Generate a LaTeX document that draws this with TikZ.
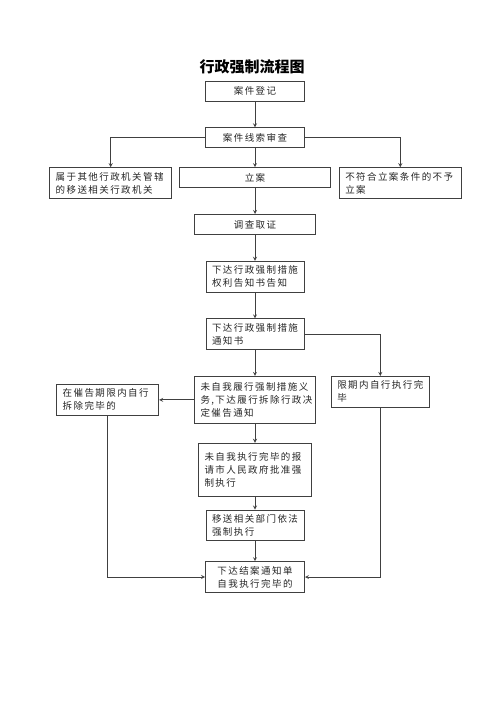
\documentclass[tikz,border=0pt]{standalone}
\usepackage{fontspec}
\newfontfamily\cjk[LetterSpace=15]{Noto Sans CJK SC}
\newfontfamily\cjktitle{Noto Sans CJK SC}
\usepackage{tikz}
\usetikzlibrary{positioning}
\tikzset{%
  flow/.style = {-stealth,draw=black!75,line width=0.8pt},
  b/.style = {rectangle,draw=black!75,line width=0.8pt,text=black!85,
        font=\cjk\fontsize{9.5}{13}\selectfont,inner xsep=6pt,inner ysep=4.5pt,
        minimum height=20pt},
  bl/.style = {b,align=left,text width=#1}
}

\begin{document}
\begin{tikzpicture}[x=1pt,y=-1pt,node distance=26pt]
                    \useasboundingbox[fill=white] (0,0) rectangle (500,708);
                    \node[font=\cjktitle\bfseries\fontsize{15}{18}\selectfont] (title) at (252,67) {行政强制流程图};

                    \node[b,minimum width=99pt] (dengji) at (255,91) {案件登记};
                    \node[b,minimum width=99pt] (shencha) [below=of dengji] {案件线索审查};
                    \node[b,minimum width=151pt] (lian) [below=19pt of shencha] {立案};
                    \node[bl=110pt] (yisong) [left=7pt of lian.north west,anchor=north east] {属于其他行政机关管辖\\的移送相关行政机关};
                    \node[bl=110pt] (buyu) [right=8pt of lian.north east,anchor=north west] {不符合立案条件的不予\\立案};
                    \node[b,minimum width=121pt] (diaocha) [below=of lian] {调查取证};
                    \node[bl=86pt] (gaozhi) [below=of diaocha] {下达行政强制措施\\权利告知书告知};
                    \node[bl=86pt] (tongzhi) [below=of gaozhi] {下达行政强制措施\\通知书};
                    \node[bl=109pt,minimum height=47pt] (cuigao) [below=of tongzhi] {未自我履行强制措施义\\务,下达履行拆除行政决\\定催告通知};
                    \node[bl=86pt] (xianqi) [right=15pt of cuigao.north east,anchor=north west] {限期内自行执行完\\毕};
                    \node[bl=90pt] (zixing) [left=35pt of cuigao] {在催告期限内自行\\拆除完毕的};
                    \node[bl=101pt,minimum height=53pt] (baoqing) [below=19pt of cuigao] {未自我执行完毕的报\\请市人民政府批准强\\制执行};
                    \node[bl=86pt] (bumen) [below=13pt of baoqing] {移送相关部门依法\\强制执行};
                    \node[b,align=center,minimum width=99pt] (jiean) [below=20pt of bumen] {下达结案通知单\\自我执行完毕的};

                    \draw[flow] (dengji) -- (shencha);
                    \draw[flow] (shencha) -- (lian);
                    \draw[flow] (shencha) -| (yisong);
                    \draw[flow] (shencha) -| (buyu);
                    \draw[flow] (lian) -- (diaocha);
                    \draw[flow] (diaocha) -- (gaozhi);
                    \draw[flow] (gaozhi) -- (tongzhi);
                    \draw[flow] (tongzhi) -- (cuigao);
                    \draw[flow] (tongzhi) -| (xianqi);
                    \draw[flow] (cuigao) -- (zixing);
                    \draw[flow] (cuigao) -- (baoqing);
                    \draw[flow] (baoqing) -- (bumen);
                    \draw[flow] (bumen) -- (jiean);
                    \draw[flow] (zixing) |- (jiean);
                    \draw[flow] (xianqi) |- (jiean);
                 \end{tikzpicture}
\end{document}
